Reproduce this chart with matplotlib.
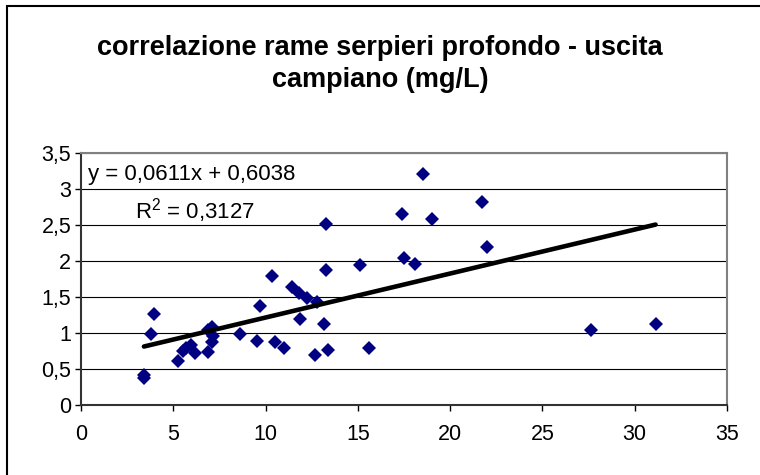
import numpy as np
import matplotlib
matplotlib.use("Agg")
import matplotlib.pyplot as plt
from matplotlib.patches import Rectangle

plt.rcParams['font.family'] = ['Liberation Sans', 'DejaVu Sans']
plt.rcParams['mathtext.fontset'] = 'custom'
plt.rcParams['mathtext.rm'] = 'Liberation Sans'
plt.rcParams['mathtext.it'] = 'Liberation Sans'

# rame serpieri profondo (x) vs uscita campiano (y), mg/L
x_serpieri = [3.41, 3.41, 3.78, 3.93, 5.28, 5.50, 5.95, 6.18, 5.70, 6.90,
              7.08, 7.17, 7.10, 6.86, 8.63, 9.52, 9.68, 10.35, 10.51, 11.00,
              11.41, 11.83, 11.86, 12.23, 12.77, 12.68, 13.16, 13.36, 13.27, 13.27,
              15.11, 15.60, 17.41, 17.51, 18.11, 18.53, 19.00, 21.71, 22.01, 27.63,
              31.13]
y_campiano = [0.38, 0.42, 0.99, 1.26, 0.61, 0.75, 0.83, 0.72, 0.79, 0.74,
              0.87, 0.96, 1.09, 1.04, 0.99, 0.89, 1.37, 1.79, 0.87, 0.79,
              1.64, 1.55, 1.20, 1.48, 1.43, 0.69, 1.13, 0.77, 2.51, 1.88,
              1.94, 0.79, 2.65, 2.04, 1.96, 3.21, 2.58, 2.82, 2.19, 1.04,
              1.12]

# linea di tendenza (da Excel)
slope = 0.0611
intercept = 0.6038
r2 = 0.3127

x_ticks = [0, 5, 10, 15, 20, 25, 30, 35]
y_ticks = [0, 0.5, 1, 1.5, 2, 2.5, 3, 3.5]
y_labels = ['0', '0,5', '1', '1,5', '2', '2,5', '3', '3,5']

fig = plt.figure(figsize=(7.6, 4.75), dpi=100)
ax = fig.add_axes([81/760, 1-405/475, 646/760, 252/475])

ax.plot(x_serpieri, y_campiano, linestyle='none', marker='D', ms=7.5,
        mfc='#000080', mec='#000080', mew=0, zorder=3)

xs = np.array([min(x_serpieri), max(x_serpieri)])
ax.plot(xs, slope*xs + intercept, color='black', lw=3.3, solid_capstyle='round', zorder=4)

ax.set_xlim(0, 35)
ax.set_ylim(0, 3.5)
ax.set_xticks(x_ticks)
ax.set_xticklabels([str(t) for t in x_ticks])
ax.set_yticks(y_ticks)
ax.set_yticklabels(y_labels)
ax.tick_params(direction='out', length=4, width=1, labelsize=15.5, colors='black', pad=3)
ax.tick_params(axis='x', pad=10)

ax.grid(axis='y', color='black', lw=0.8)
ax.set_axisbelow(True)
for s in ['top', 'right']:
    ax.spines[s].set_color('#808080')
    ax.spines[s].set_linewidth(1.5)
for s in ['left', 'bottom']:
    ax.spines[s].set_color('#333333')
    ax.spines[s].set_linewidth(1.5)

ax.text(0.011, 0.913, 'y = 0,0611x + 0,6038', transform=ax.transAxes,
        fontsize=16, ha='left', va='center')
ax.text(0.176, 0.772, r'R$^2$ = 0,3127', transform=ax.transAxes,
        fontsize=16, ha='center', va='center')

fig.text(0.5, 1-48/475, 'correlazione rame serpieri profondo - uscita',
         fontsize=19.5, fontweight='bold', ha='center', va='center')
fig.text(0.5, 1-80/475, 'campiano (mg/L)',
         fontsize=19.5, fontweight='bold', ha='center', va='center')

fig.patches.append(Rectangle((7/760, -0.1), 1.2, 1.1 - 6/475, transform=fig.transFigure,
                             fill=False, edgecolor='black', lw=1.5))

fig.savefig('out.png', dpi=100)
